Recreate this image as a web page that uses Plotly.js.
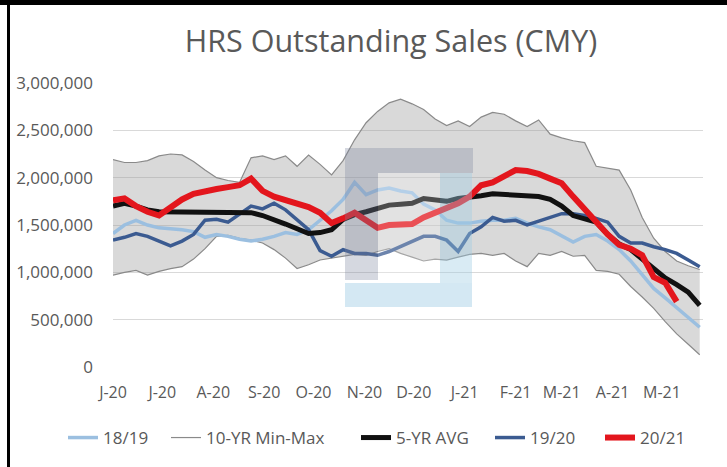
<!DOCTYPE html>
<html>
<head>
<meta charset="utf-8">
<script src="https://cdn.plot.ly/plotly-3.0.1.min.js"></script>
<style>
  html, body { margin: 0; padding: 0; background: #fff; }
  #wrap { position: relative; width: 727px; height: 467px; }
  #chart { width: 727px; height: 467px; }
  .bdr { position: absolute; background: #000; }
</style>
</head>
<body>
<div id="wrap">
  <div id="chart"></div>
  <div class="bdr" style="left:0;top:0;width:727px;height:5px;"></div>
  <div class="bdr" style="left:7px;top:0;width:3px;height:467px;"></div>
</div>
<script>
// Weekly dates (x categories)
const weeks = [
  '2020-06-01','2020-06-08','2020-06-15','2020-06-22','2020-06-29',
  '2020-07-06','2020-07-13','2020-07-20','2020-07-27',
  '2020-08-03','2020-08-10','2020-08-17','2020-08-24','2020-08-31',
  '2020-09-07','2020-09-14','2020-09-21','2020-09-28',
  '2020-10-05','2020-10-12','2020-10-19','2020-10-26',
  '2020-11-02','2020-11-09','2020-11-16','2020-11-23','2020-11-30',
  '2020-12-07','2020-12-14','2020-12-21','2020-12-28',
  '2021-01-04','2021-01-11','2021-01-18','2021-01-25',
  '2021-02-01','2021-02-08','2021-02-15','2021-02-22',
  '2021-03-01','2021-03-08','2021-03-15','2021-03-22','2021-03-29',
  '2021-04-05','2021-04-12','2021-04-19','2021-04-26',
  '2021-05-03','2021-05-10','2021-05-17','2021-05-24'
];

// Month tick labels
const monthTicks = ['2020-06-01','2020-07-01','2020-08-01','2020-09-01','2020-10-01','2020-11-01',
                    '2020-12-01','2021-01-01','2021-02-01','2021-03-01','2021-04-01','2021-05-01'];
const monthLabels = ['J-20','J-20','A-20','S-20','O-20','N-20','D-20','J-21','F-21','M-21','A-21','M-21'];

// Values in millions
const tenYrMax = [2.19,2.16,2.16,2.18,2.23,2.25,2.24,2.17,2.08,2.00,1.97,1.95,2.21,2.23,2.19,2.23,2.12,2.24,
                  2.14,2.03,2.18,2.40,2.58,2.70,2.79,2.83,2.78,2.72,2.62,2.55,2.60,2.54,2.64,2.69,2.67,
                  2.60,2.54,2.61,2.46,2.42,2.39,2.37,2.12,2.10,2.08,1.87,1.58,1.36,1.22,1.12,1.07,1.03];
const tenYrMin = [0.97,1.00,1.02,0.97,1.01,1.04,1.06,1.14,1.25,1.38,1.39,1.36,1.34,1.31,1.24,1.15,1.04,1.08,
                  1.13,1.15,1.17,1.19,1.18,1.22,1.25,1.20,1.16,1.12,1.14,1.13,1.16,1.19,1.20,1.18,1.20,
                  1.12,1.06,1.20,1.18,1.22,1.17,1.18,1.02,1.01,0.98,0.85,0.74,0.62,0.48,0.35,0.24,0.13];
const avg5yr = [1.70,1.73,1.70,1.66,1.64,1.64,1.63,1.63,1.63,1.63,1.64,1.64,1.63,1.60,1.56,1.51,1.46,1.41,
                1.42,1.45,1.56,1.61,1.64,1.68,1.71,1.72,1.73,1.78,1.77,1.75,1.78,1.79,1.81,1.83,1.82,
                1.82,1.81,1.80,1.77,1.70,1.60,1.56,1.53,1.40,1.30,1.24,1.14,1.03,0.94,0.87,0.79,0.65];
const s1819 = [1.41,1.50,1.55,1.50,1.47,1.46,1.45,1.43,1.37,1.40,1.38,1.35,1.33,1.35,1.38,1.42,1.40,1.45,
               1.55,1.65,1.77,1.95,1.82,1.87,1.89,1.86,1.84,1.72,1.66,1.55,1.52,1.52,1.54,1.55,1.55,
               1.57,1.52,1.48,1.45,1.38,1.32,1.38,1.40,1.33,1.24,1.12,0.97,0.83,0.73,0.63,0.52,0.42];
const s1920 = [1.34,1.37,1.41,1.38,1.33,1.28,1.33,1.40,1.55,1.56,1.53,1.62,1.70,1.67,1.73,1.66,1.56,1.45,
               1.23,1.17,1.24,1.20,1.20,1.18,1.22,1.27,1.32,1.38,1.38,1.34,1.22,1.41,1.48,1.58,1.54,
               1.55,1.50,1.54,1.58,1.62,1.62,1.60,1.57,1.53,1.38,1.31,1.31,1.27,1.24,1.20,1.13,1.06];
const s2021 = [1.76,1.78,1.70,1.64,1.60,1.69,1.77,1.83,1.86,1.88,1.90,1.92,1.99,1.86,1.80,1.76,1.73,1.69,
               1.63,1.52,1.57,1.63,1.55,1.47,1.50,1.50,1.51,1.58,1.63,1.68,1.73,1.80,1.92,1.95,2.02,
               2.08,2.07,2.04,1.99,1.94,1.80,1.66,1.53,1.40,1.29,1.25,1.18,0.95,0.89,0.69];

const yTicks = [0, 500000, 1000000, 1500000, 2000000, 2500000, 3000000];

const M = v => v.map(a => a * 1e6);

const traces = [
  { x: weeks, y: M(tenYrMin), name: '10-YR Min-Max', type: 'scatter', mode: 'lines',
    line: { color: '#8a8a8a', width: 1.2 }, legend: 'legend2', hoverinfo: 'skip' },
  { x: weeks, y: M(tenYrMax), name: '10-YR Max', type: 'scatter', mode: 'lines',
    fill: 'tonexty', fillcolor: 'rgba(150,150,150,0.36)', showlegend: false,
    line: { color: '#8a8a8a', width: 1.2 }, hoverinfo: 'skip' },
  { x: weeks, y: M(s1819), name: '18/19', type: 'scatter', mode: 'lines',
    line: { color: '#9bbfe0', width: 3.5 }, legend: 'legend' },
  { x: weeks, y: M(s1920), name: '19/20', type: 'scatter', mode: 'lines',
    line: { color: '#3b5b91', width: 3.5 }, legend: 'legend4' },
  { x: weeks, y: M(avg5yr), name: '5-YR AVG', type: 'scatter', mode: 'lines',
    line: { color: '#111111', width: 5 }, legend: 'legend3' },
  { x: weeks.slice(0, s2021.length), y: M(s2021), name: '20/21', type: 'scatter', mode: 'lines',
    line: { color: '#e3161d', width: 6 }, legend: 'legend5' }
];

const px = v => (v - 113) / 590;
const py = v => (367 - v) / 284;
const rect = (x0, x1, y0, y1, color) => ({
  type: 'rect', xref: 'paper', yref: 'paper', layer: 'above',
  x0: px(x0), x1: px(x1), y0: py(y1), y1: py(y0),
  fillcolor: color, line: { width: 0 }
});
const leg = left => ({
  orientation: 'h', xref: 'container', yref: 'container',
  x: left / 727, xanchor: 'left', y: 1 - 438 / 467, yanchor: 'middle',
  font: { size: 17, color: '#595959' }, itemwidth: 30,
  bgcolor: 'rgba(0,0,0,0)'
});

const layout = {
  width: 727, height: 467,
  margin: { l: 113, r: 24, t: 83, b: 100 },
  paper_bgcolor: '#ffffff', plot_bgcolor: '#ffffff',
  font: { family: 'Open Sans, sans-serif', color: '#595959', size: 17 },
  title: {
    text: 'HRS Outstanding Sales (CMY)',
    font: { family: 'Open Sans, sans-serif', size: 30.5, color: '#595959', weight: 500 },
    x: 391 / 727, xanchor: 'center', xref: 'container',
    y: 1 - 41 / 467, yanchor: 'middle', yref: 'container'
  },
  xaxis: {
    type: 'date',
    range: ['2020-06-01', '2021-05-26'],
    tickvals: monthTicks, ticktext: monthLabels,
    showgrid: false, zeroline: false, showline: false,
    ticks: '', ticklabelstandoff: 14,
    tickfont: { size: 16, color: '#595959' }
  },
  yaxis: {
    range: [0, 3000000],
    tickvals: yTicks, tickformat: ',d',
    showgrid: true, gridcolor: '#d9d9d9', gridwidth: 1,
    zeroline: false, showline: false, ticks: '',
    ticklabelstandoff: 19,
    tickfont: { size: 17, color: '#595959' }
  },
  legend: leg(63),
  legend2: leg(166),
  legend3: leg(356),
  legend4: leg(490),
  legend5: leg(600),
  shapes: [
    rect(345, 473, 148, 173, 'rgba(125,135,160,0.32)'),
    rect(345, 378, 173, 280, 'rgba(125,135,160,0.32)'),
    rect(378, 440, 173, 283, 'rgba(255,255,255,0.25)'),
    rect(440, 472, 173, 283, 'rgba(160,205,228,0.4)'),
    rect(345, 472, 283, 307, 'rgba(160,205,228,0.45)')
  ],
  showlegend: true
};

Plotly.newPlot('chart', traces, layout, { displayModeBar: false, staticPlot: true });
</script>
</body>
</html>
